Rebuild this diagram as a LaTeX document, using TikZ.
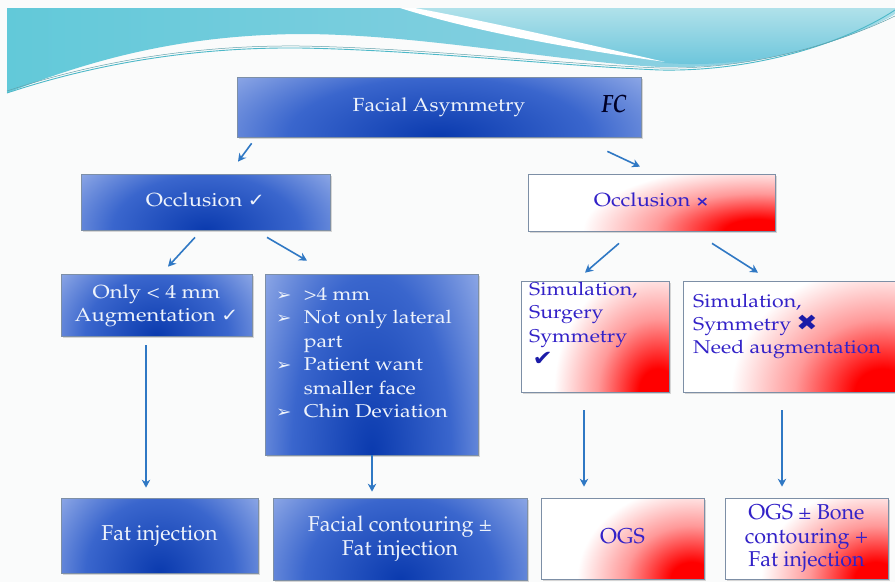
\documentclass[tikz,border=0pt]{standalone}
\usepackage[T1]{fontenc}
\usepackage{fontspec}
\usepackage{graphicx}
\usetikzlibrary{arrows.meta,calc,shadows}
\newfontfamily\djv{DejaVu Sans}
\newcommand\pal{\fontencoding{T1}\fontfamily{ppl}\selectfont}
\newcommand\ctext[4]{\scalebox{#3}[1]{\pal\fontsize{#1}{#2}\selectfont\begin{tabular}{@{}c@{}}#4\end{tabular}}}
\newcommand\ltext[4]{\scalebox{#3}[1]{\pal\fontsize{#1}{#2}\selectfont\begin{tabular}[t]{@{}l@{}}#4\end{tabular}}}
\newcommand\bul{\makebox[24pt][l]{\djv\fontsize{16}{16}\selectfont ➢}}

\definecolor{bdark}{HTML}{0A3AAE}
\definecolor{bmid}{HTML}{3A66CD}
\definecolor{blight}{HTML}{A9BDEE}
\definecolor{txtw}{HTML}{EEF3FB}
\definecolor{redtxt}{HTML}{3322C8}
\definecolor{chkc}{HTML}{1B1BA8}
\definecolor{arrc}{HTML}{2F78C4}
\definecolor{bord}{HTML}{7D8FA6}
\definecolor{bgc}{HTML}{FAFBFB}
\definecolor{bandA}{HTML}{62C9D9}
\definecolor{bandB}{HTML}{84C4D8}
\definecolor{bandC}{HTML}{98D3E4}
\definecolor{lightA}{HTML}{B0E1EA}
\definecolor{lightB}{HTML}{66C3DA}
\definecolor{linec}{HTML}{4CB8C8}

\pgfdeclareradialshading{bluerad}{\pgfpoint{0bp}{0bp}}{color(0bp)=(bdark); color(13bp)=(bmid); color(25bp)=(blight); color(50bp)=(blight)}
\pgfdeclareradialshading{redrad}{\pgfpoint{0bp}{0bp}}{color(0bp)=(red); color(3.5bp)=(red); color(11bp)=(red!40!white); color(19bp)=(white); color(50bp)=(white)}

\tikzset{
  box/.style={draw=bord, line width=0.7pt, inner sep=0pt,
    drop shadow={shadow xshift=1.5pt, shadow yshift=-1.8pt, opacity=0.3}},
  bluebox/.style={box, fill=blight, text=txtw,
    path picture={\shade[shading=bluerad] let \p1=($(path picture bounding box.north east)-(path picture bounding box.south west)$) in
      ($(path picture bounding box.south west)!0.5!(path picture bounding box.south east)$) ellipse [x radius={0.72*\x1}, y radius={1.9*\y1}];}},
  redbox/.style={box, fill=white, text=redtxt,
    path picture={\shade[shading=redrad] let \p1=($(path picture bounding box.north east)-(path picture bounding box.south west)$) in
      (path picture bounding box.south east) ellipse [x radius={0.85*\x1}, y radius={1.5*\y1}];}},
  arr/.style={draw=arrc, line width=1.6pt, -{Stealth[length=8pt,width=8.5pt]}},
  plain/.style={inner sep=0pt},
}

\begin{document}
\begin{tikzpicture}[x=1pt,y=-1pt]
\useasboundingbox (0,0) rectangle (895,582);
\fill[bgc] (0,0) rectangle (895,582);

% banner
\shade[left color=bandA, middle color=bandB, right color=bandC]
  (7,8) -- (895,8) -- (895,14) .. controls (850,40) and (760,70) .. (660,67)
  .. controls (560,62) and (420,34) .. (300,34)
  .. controls (180,35) and (90,60) .. (7,93) -- cycle;
\shade[top color=lightA, bottom color=lightB]
  (415,8) -- (895,8) -- (895,14) .. controls (850,40) and (760,70) .. (665,63)
  .. controls (570,42) and (480,22) .. (415,8) -- cycle;
\fill[white] (400,8) -- (415,8) .. controls (480,20) and (570,40) .. (665,62)
  .. controls (560,47) and (470,30) .. (400,8) -- cycle;
\draw[linec, line width=0.9pt] (7,93) .. controls (100,62) and (200,47) .. (300,48)
  .. controls (420,50) and (560,66) .. (660,70) .. controls (760,72) and (850,40) .. (895,10);
\draw[linec!60!gray, line width=0.5pt] (7,91) .. controls (100,60) and (200,45) .. (300,46)
  .. controls (420,48) and (560,64) .. (660,68) .. controls (760,70) and (850,38) .. (895,16);

% boxes
\node[bluebox, minimum width=404, minimum height=60] (top) at (439,107) {\ctext{19}{22}{1.12}{Facial Asymmetry}};
\node[plain, text=black!85!blue] (fc) at (614,104) {\scalebox{0.8}[1]{\pal\fontsize{25}{25}\selectfont\bfseries\itshape FC}};

\node[bluebox, minimum width=249, minimum height=56] (occ1) at (205.5,202.5)
  {\ctext{19}{22}{1.15}{Occlusion {\djv\fontsize{18}{18}\selectfont ✓}}};
\node[redbox, minimum width=247, minimum height=57] (occ2) at (651.5,202.5)
  {\ctext{19}{22}{1.15}{Occlusion {\djv\bfseries\fontsize{14}{14}\selectfont ×}}};

\node[bluebox, minimum width=191, minimum height=62] (only) at (156.5,305)
  {\ctext{19}{23}{1.15}{Only < 4 mm\\Augmentation {\djv\fontsize{18}{18}\selectfont ✓}}};
\node[bluebox, minimum width=213, minimum height=181] (bul) at (371.5,364.5) {};
\node[plain, text=txtw, anchor=north west] (bult) at (276,283.5)
  {\ltext{18.5}{23.5}{1.15}{\bul>4 mm\\\bul Not only lateral\\\hspace*{24pt}part\\\bul Patient want\\\hspace*{24pt}smaller face\\\bul Chin Deviation}};

\node[redbox, minimum width=148, minimum height=111] (sim1) at (595,336.5) {};
\node[plain, text=redtxt, anchor=north west] (sim1t) at (529,278.5)
  {\ltext{18.5}{23.5}{1.15}{Simulation,\\Surgery\\Symmetry\\\hspace*{3pt}{\djv\fontsize{21}{21}\selectfont\color{chkc}✔}}};
\node[redbox, minimum width=216, minimum height=111] (sim2) at (791,336.5) {};
\node[plain, text=redtxt, anchor=north west] (sim2t) at (693,290.7)
  {\ltext{18.5}{23.3}{1.15}{Simulation,\\Symmetry {\djv\fontsize{22}{22}\selectfont\color{chkc}✖}\\Need augmentation}};

\node[bluebox, minimum width=197, minimum height=75] (fat1) at (159.5,535.5) {\ctext{21.5}{24}{1}{Fat injection}};
\node[bluebox, minimum width=254, minimum height=82] (fac) at (400,539) {\ctext{21.5}{24}{1}{Facial contouring \textpm\\Fat injection}};
\node[redbox, minimum width=163, minimum height=81] (ogs) at (622.5,538.5) {\raisebox{-8pt}{\ctext{21.5}{24}{1}{OGS}}};
\node[redbox, minimum width=163, minimum height=81] (ogs2) at (806.5,538.5) {\ctext{21.5}{23.5}{1}{OGS \textpm{} Bone\\contouring +\\Fat injection}};

% arrows
\draw[arr] ([shift={(15,6)}]top.south west) -- ([shift={(32.5,-12.5)}]occ1.north);
\draw[arr] ([shift={(-34,14)}]top.south east) -- ([shift={(-11.5,-7)}]occ2.north);
\draw[arr] ([shift={(-10.5,6.5)}]occ1.south) -- ([shift={(11.5,-7)}]only.north);
\draw[arr] ([shift={(61.5,6.5)}]occ1.south) -- ([shift={(-64.5,-13)}]bul.north);
\draw[arr] ([shift={(-32.5,12)}]occ2.south) -- ([shift={(-10,-8)}]sim1.north);
\draw[arr] ([shift={(60.5,12)}]occ2.south) -- ([shift={(-33,-8)}]sim2.north);
\draw[arr] ([shift={(-10.5,9)}]only.south) -- ([shift={(-13.5,-10)}]fat1.north);
\draw[arr] ([shift={(0.5,0)}]bul.south) -- ([shift={(-28,-6)}]fac.north);
\draw[arr] ([shift={(-11,18)}]sim1.south) -- ([shift={(-38.5,-11)}]ogs.north);
\draw[arr] ([shift={(-9,18)}]sim2.south) -- ([shift={(-24.5,-11)}]ogs2.north);
\end{tikzpicture}
\end{document}
